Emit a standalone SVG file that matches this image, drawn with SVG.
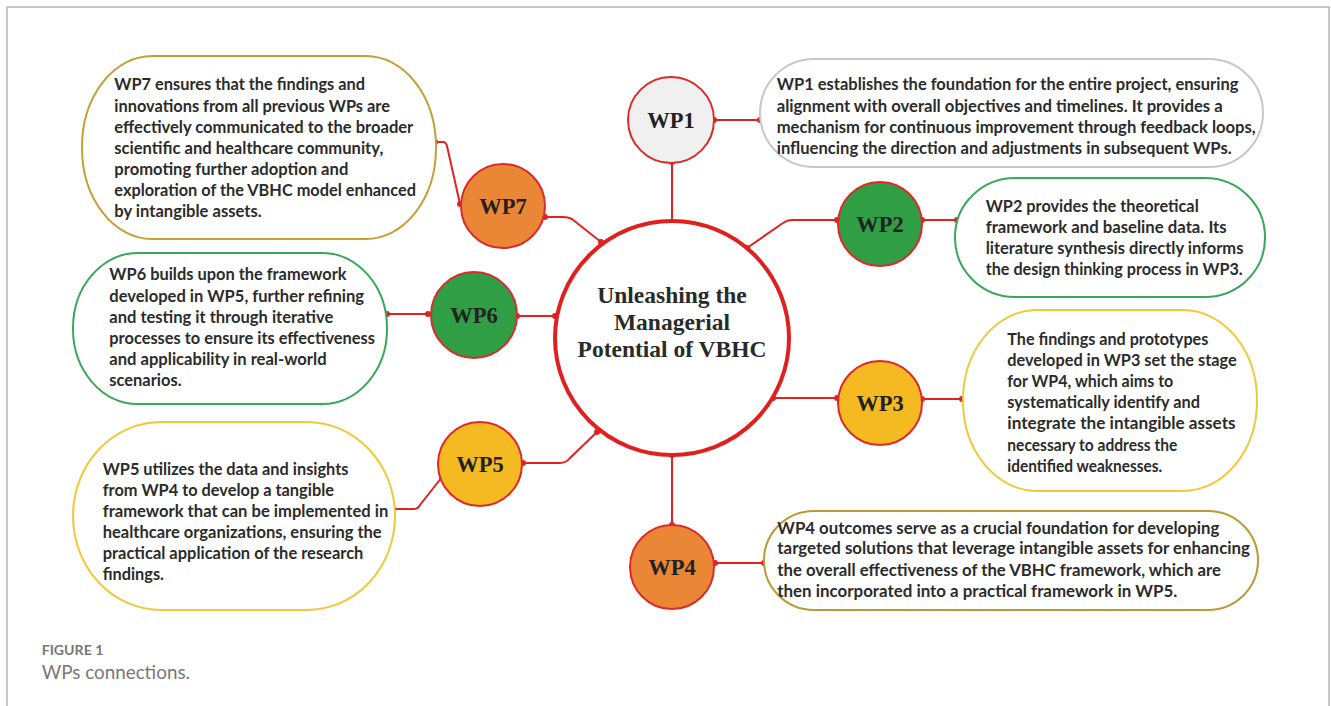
<svg xmlns="http://www.w3.org/2000/svg" width="1331" height="706" viewBox="0 0 1331 706">
<defs>
<style>
.frame{fill:none;stroke:#b5b5b5;stroke-width:1.5}
.wp{stroke:#dc2a2a;stroke-width:2}
.lbl{font-family:"Liberation Serif","Times New Roman",serif;font-weight:bold;font-size:22.5px;fill:#222;text-anchor:middle}
.ttl{font-family:"Liberation Serif","Times New Roman",serif;font-weight:bold;font-size:23.5px;fill:#2a2a2a;text-anchor:middle}
.box{fill:#fff;stroke-width:2}
.bt{font-family:Lato,"Open Sans",sans-serif;font-weight:bold;font-size:16.3px;fill:#2b2b2b}
.con{fill:none;stroke:#e02222;stroke-width:2}
.dot{fill:#e02222}
.green{fill:#2f9e44}
.orange{fill:#e98736}
.yellow{fill:#f5ba22}
.cap1{font-family:Lato,"Open Sans",sans-serif;font-weight:bold;font-size:14px;fill:#777}
.cap2{font-family:Lato,"Open Sans",sans-serif;font-size:19px;fill:#777}
</style>
</defs>
<rect width="1331" height="706" fill="#fff"/>
<path class="frame" d="M7,706 V7 H1329 V706"/>

<g id="connectors">
<path class="con" d="M672,222 V162"/>
<path class="con" d="M714,120 H760"/>
<path class="con" d="M747,248 L783,223 Q787,220 792,220 H837"/>
<path class="con" d="M922,220 H957"/>
<path class="con" d="M773,398 H837"/>
<path class="con" d="M922,399 H962"/>
<path class="con" d="M672,455 V525"/>
<path class="con" d="M715,563 H764"/>
<path class="con" d="M597,432 L570,458 Q566,463 560,463 H523"/>
<path class="con" d="M393,509 H414 Q418,509 420,505 L442,477"/>
<path class="con" d="M555,316 H517"/>
<path class="con" d="M387,314 H428"/>
<path class="con" d="M601,242 L572,219 Q568,217 563,217 H545"/>
<path class="con" d="M435,142 H443 Q446,142 447,146 L460,204"/>
<g>
<circle class="dot" cx="672" cy="222" r="3"/><circle class="dot" cx="672" cy="162" r="3"/>
<circle class="dot" cx="714" cy="120" r="3"/><circle class="dot" cx="760" cy="120" r="3"/>
<circle class="dot" cx="747" cy="248" r="3"/><circle class="dot" cx="837" cy="220" r="3"/>
<circle class="dot" cx="922" cy="220" r="3"/><circle class="dot" cx="957" cy="220" r="3"/>
<circle class="dot" cx="773" cy="398" r="3"/><circle class="dot" cx="837" cy="398" r="3"/>
<circle class="dot" cx="922" cy="399" r="3"/><circle class="dot" cx="962" cy="399" r="3"/>
<circle class="dot" cx="672" cy="455" r="3"/><circle class="dot" cx="672" cy="525" r="3"/>
<circle class="dot" cx="715" cy="563" r="3"/><circle class="dot" cx="764" cy="563" r="3"/>
<circle class="dot" cx="597" cy="432" r="3"/><circle class="dot" cx="523" cy="463" r="3"/>
<circle class="dot" cx="393" cy="509" r="3"/><circle class="dot" cx="442" cy="477" r="3"/>
<circle class="dot" cx="555" cy="316" r="3"/><circle class="dot" cx="517" cy="316" r="3"/>
<circle class="dot" cx="387" cy="314" r="3"/><circle class="dot" cx="428" cy="314" r="3"/>
<circle class="dot" cx="601" cy="242" r="3"/><circle class="dot" cx="545" cy="217" r="3"/>
<circle class="dot" cx="435" cy="142" r="3"/><circle class="dot" cx="460" cy="204" r="3"/>
</g>
</g>

<g id="center">
<circle cx="672" cy="338" r="117" fill="#fff" stroke="#e01f1f" stroke-width="4"/>
<text class="ttl" x="672" y="303">Unleashing the</text>
<text class="ttl" x="672" y="330">Managerial</text>
<text class="ttl" x="672" y="357">Potential of VBHC</text>
</g>

<g id="wp1">
<circle class="wp" cx="671" cy="120" r="43" fill="#f0f0f0"/>
<text class="lbl" x="671" y="128">WP1</text>
</g>
<g id="wp2">
<circle class="wp green" cx="880" cy="224" r="42"/>
<text class="lbl" x="880" y="232">WP2</text>
</g>
<g id="wp3">
<circle class="wp yellow" cx="880" cy="403" r="42"/>
<text class="lbl" x="880" y="411">WP3</text>
</g>
<g id="wp4">
<circle class="wp orange" cx="672" cy="567" r="42"/>
<text class="lbl" x="672" y="575">WP4</text>
</g>
<g id="wp5">
<circle class="wp yellow" cx="480" cy="464" r="42"/>
<text class="lbl" x="480" y="472">WP5</text>
</g>
<g id="wp6">
<circle class="wp green" cx="474" cy="315" r="43"/>
<text class="lbl" x="474" y="323">WP6</text>
</g>
<g id="wp7">
<circle class="wp orange" cx="503" cy="206" r="42"/>
<text class="lbl" x="503" y="214">WP7</text>
</g>

<g id="box-wp7">
<rect class="box" x="82" y="56" width="354" height="183" rx="70" ry="91" stroke="#c4a035"/>
<text class="bt" x="114.3" y="90" textLength="250.7" lengthAdjust="spacingAndGlyphs">WP7 ensures that the findings and</text>
<text class="bt" x="114.3" y="111.5" textLength="275.7" lengthAdjust="spacingAndGlyphs">innovations from all previous WPs are</text>
<text class="bt" x="114.3" y="132.5" textLength="299" lengthAdjust="spacingAndGlyphs">effectively communicated to the broader</text>
<text class="bt" x="114.3" y="154" textLength="269" lengthAdjust="spacingAndGlyphs">scientific and healthcare community,</text>
<text class="bt" x="114.3" y="175" textLength="234" lengthAdjust="spacingAndGlyphs">promoting further adoption and</text>
<text class="bt" x="114.3" y="196" textLength="301.7" lengthAdjust="spacingAndGlyphs">exploration of the VBHC model enhanced</text>
<text class="bt" x="114.3" y="216.5" textLength="147.3" lengthAdjust="spacingAndGlyphs">by intangible assets.</text>
</g>

<g id="box-wp6">
<rect class="box" x="73" y="253" width="314" height="151" rx="65" ry="75" stroke="#3aa85a"/>
<text class="bt" x="109.3" y="280" textLength="237.3" lengthAdjust="spacingAndGlyphs">WP6 builds upon the framework</text>
<text class="bt" x="109.3" y="301.5" textLength="254.7" lengthAdjust="spacingAndGlyphs">developed in WP5, further refining</text>
<text class="bt" x="109.3" y="322.5" textLength="224" lengthAdjust="spacingAndGlyphs">and testing it through iterative</text>
<text class="bt" x="109.3" y="344" textLength="265.7" lengthAdjust="spacingAndGlyphs">processes to ensure its effectiveness</text>
<text class="bt" x="109.3" y="365" textLength="217.3" lengthAdjust="spacingAndGlyphs">and applicability in real-world</text>
<text class="bt" x="109.3" y="386" textLength="72.3" lengthAdjust="spacingAndGlyphs">scenarios.</text>
</g>

<g id="box-wp5">
<rect class="box" x="73" y="422" width="322" height="188" rx="88" ry="94" stroke="#f0c93a"/>
<text class="bt" x="102.7" y="474.5" textLength="245.7" lengthAdjust="spacingAndGlyphs">WP5 utilizes the data and insights</text>
<text class="bt" x="102.7" y="495.5" textLength="231.3" lengthAdjust="spacingAndGlyphs">from WP4 to develop a tangible</text>
<text class="bt" x="102.7" y="516.5" textLength="285.7" lengthAdjust="spacingAndGlyphs">framework that can be implemented in</text>
<text class="bt" x="102.7" y="538" textLength="279" lengthAdjust="spacingAndGlyphs">healthcare organizations, ensuring the</text>
<text class="bt" x="102.7" y="559" textLength="260.7" lengthAdjust="spacingAndGlyphs">practical application of the research</text>
<text class="bt" x="102.7" y="580" textLength="61.3" lengthAdjust="spacingAndGlyphs">findings.</text>
</g>

<g id="box-wp1">
<rect class="box" x="760" y="59" width="503" height="108" rx="54" ry="54" stroke="#c8c8c8"/>
<text class="bt" x="776.7" y="90" textLength="461.7" lengthAdjust="spacingAndGlyphs">WP1 establishes the foundation for the entire project, ensuring</text>
<text class="bt" x="776.7" y="112" textLength="446" lengthAdjust="spacingAndGlyphs">alignment with overall objectives and timelines. It provides a</text>
<text class="bt" x="776.7" y="133" textLength="479" lengthAdjust="spacingAndGlyphs">mechanism for continuous improvement through feedback loops,</text>
<text class="bt" x="776.7" y="154" textLength="455" lengthAdjust="spacingAndGlyphs">influencing the direction and adjustments in subsequent WPs.</text>
</g>

<g id="box-wp2">
<rect class="box" x="955" y="178" width="310" height="119" rx="60" ry="59" stroke="#3aa85a"/>
<text class="bt" x="985.7" y="212" textLength="213" lengthAdjust="spacingAndGlyphs">WP2 provides the theoretical</text>
<text class="bt" x="985.7" y="233" textLength="241" lengthAdjust="spacingAndGlyphs">framework and baseline data. Its</text>
<text class="bt" x="985.7" y="254" textLength="257.7" lengthAdjust="spacingAndGlyphs">literature synthesis directly informs</text>
<text class="bt" x="985.7" y="275" textLength="257" lengthAdjust="spacingAndGlyphs">the design thinking process in WP3.</text>
</g>

<g id="box-wp3">
<rect class="box" x="963" y="310" width="294" height="181" rx="74" ry="90" stroke="#f0c93a"/>
<text class="bt" x="1007.3" y="345" textLength="201" lengthAdjust="spacingAndGlyphs">The findings and prototypes</text>
<text class="bt" x="1007.3" y="366" textLength="229.3" lengthAdjust="spacingAndGlyphs">developed in WP3 set the stage</text>
<text class="bt" x="1007.3" y="387" textLength="166" lengthAdjust="spacingAndGlyphs">for WP4, which aims to</text>
<text class="bt" x="1007.3" y="408" textLength="192.7" lengthAdjust="spacingAndGlyphs">systematically identify and</text>
<text class="bt" x="1007.3" y="429" textLength="228.3" lengthAdjust="spacingAndGlyphs">integrate the intangible assets</text>
<text class="bt" x="1007.3" y="450.5" textLength="170" lengthAdjust="spacingAndGlyphs">necessary to address the</text>
<text class="bt" x="1007.3" y="471.5" textLength="155" lengthAdjust="spacingAndGlyphs">identified weaknesses.</text>
</g>

<g id="box-wp4">
<rect class="box" x="764" y="511" width="494" height="99" rx="50" ry="49.5" stroke="#bb9a34"/>
<text class="bt" x="777.3" y="533.5" textLength="442" lengthAdjust="spacingAndGlyphs">WP4 outcomes serve as a crucial foundation for developing</text>
<text class="bt" x="777.3" y="554" textLength="472.7" lengthAdjust="spacingAndGlyphs">targeted solutions that leverage intangible assets for enhancing</text>
<text class="bt" x="777.3" y="575.5" textLength="443.6" lengthAdjust="spacingAndGlyphs">the overall effectiveness of the VBHC framework, which are</text>
<text class="bt" x="777.3" y="596.5" textLength="400" lengthAdjust="spacingAndGlyphs">then incorporated into a practical framework in WP5.</text>
</g>

<g id="caption">
<text class="cap1" x="41.7" y="655" textLength="61.7" lengthAdjust="spacingAndGlyphs">FIGURE 1</text>
<text class="cap2" x="41.7" y="679" textLength="148.3" lengthAdjust="spacingAndGlyphs">WPs connections.</text>
</g>
</svg>
